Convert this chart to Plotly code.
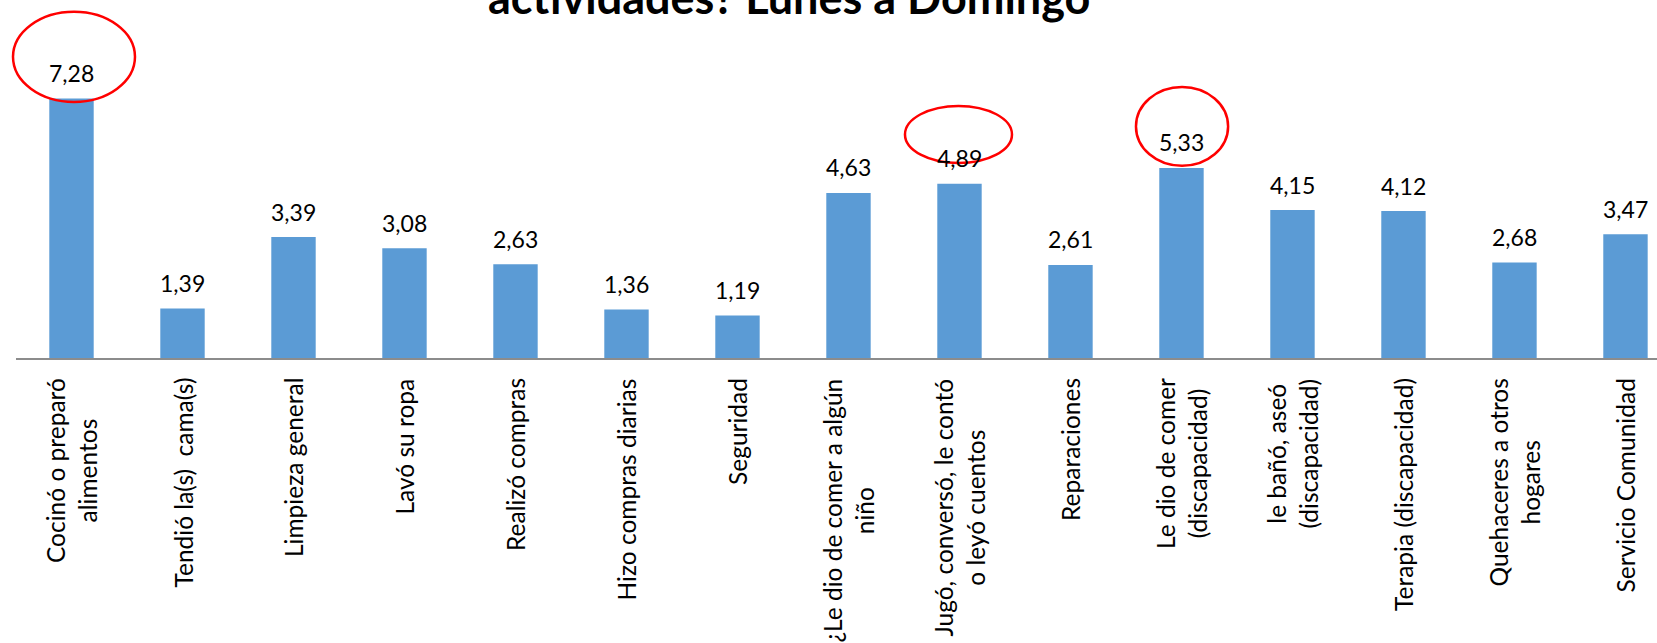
import plotly.graph_objects as go

categories = [
    "Cocinó o preparó<br>alimentos",
    "Tendió la(s)  cama(s)",
    "Limpieza general",
    "Lavó su ropa",
    "Realizó compras",
    "Hizo compras diarias",
    "Seguridad",
    "¿Le dio de comer a algún<br>niño",
    "Jugó, conversó, le contó<br>o leyó cuentos",
    "Reparaciones",
    "Le dio de comer<br>(discapacidad)",
    "le bañó, aseó<br>(discapacidad)",
    "Terapia (discapacidad)",
    "Quehaceres a otros<br>hogares",
    "Servicio Comunidad",
]
values = [7.28, 1.39, 3.39, 3.08, 2.63, 1.36, 1.19, 4.63, 4.89, 2.61, 5.33, 4.15, 4.12, 2.68, 3.47]
title_text = "actividades? Lunes a Domingo"

# highlighted labels (ellipses), in category index / value units
ellipses = [
    (-0.527, 0.572, 7.18, 9.71),
    (7.509, 8.473, 5.47, 7.07),
    (9.59, 10.42, 5.39, 7.60),
]

FONT = "Lato"
BAR = "#5B9BD5"
X_RANGE = [-0.5, 14.284]
Y_RANGE = [0, 10.04]

x_idx = list(range(len(categories)))

fig = go.Figure()
fig.add_trace(go.Bar(
    x=x_idx, y=values, marker=dict(color=BAR, line=dict(width=0)),
    width=0.4, hoverinfo="skip",
))

annotations = []
for i, v in enumerate(values):
    annotations.append(dict(
        x=i, y=v, xref="x", yref="y", text=f"{v:.2f}".replace(".", ","),
        showarrow=False, yanchor="bottom", xanchor="center", yshift=9.5,
        font=dict(family=FONT, size=23, color="#000000"),
    ))
for i, c in enumerate(categories):
    annotations.append(dict(
        x=i, y=0, xref="x", yref="paper", text=c, textangle=-90,
        showarrow=False, yanchor="top", xanchor="center", yshift=-18,
        align="center",
        font=dict(family=FONT, size=24.5, color="#000000"),
    ))
annotations.append(dict(
    x=0.471, y=0.928, xref="paper", yref="paper", text="<b>" + title_text + "</b>",
    showarrow=False, yanchor="bottom", xanchor="center",
    font=dict(family=FONT, size=45, color="#000000"),
))


def to_px(x):
    return (x - X_RANGE[0]) / (X_RANGE[1] - X_RANGE[0])


def to_py(y):
    return (y - Y_RANGE[0]) / (Y_RANGE[1] - Y_RANGE[0])


shapes = []
for x0, x1, y0, y1 in ellipses:
    shapes.append(dict(type="circle", xref="paper", yref="paper",
                       x0=to_px(x0), x1=to_px(x1), y0=to_py(y0), y1=to_py(y1),
                       line=dict(color="#FF0000", width=2.5), fillcolor="rgba(0,0,0,0)"))

fig.update_layout(
    width=1657, height=643,
    margin=dict(l=16, r=0, t=0, b=285, autoexpand=False),
    paper_bgcolor="#FFFFFF", plot_bgcolor="#FFFFFF",
    showlegend=False,
    annotations=annotations,
    shapes=shapes,
    xaxis=dict(range=X_RANGE, showticklabels=False, ticks="", showgrid=False,
               zeroline=False, showline=True, linecolor="#8C8C8C", linewidth=1.5,
               fixedrange=True),
    yaxis=dict(range=Y_RANGE, visible=False, showgrid=False, zeroline=False,
               fixedrange=True),
)

fig.write_html(
    "out.html",
    config={"displayModeBar": False},
    post_script="document.body.style.margin='0';document.body.style.overflow='hidden';",
)
